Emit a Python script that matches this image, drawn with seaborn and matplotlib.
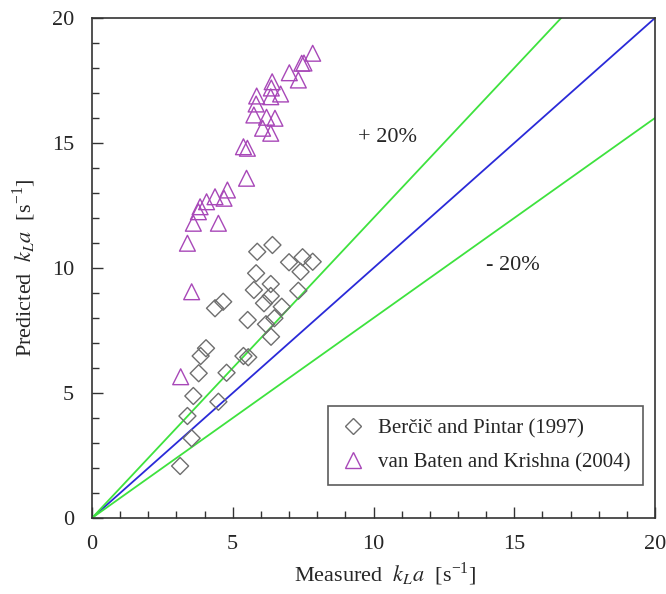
import matplotlib
matplotlib.use("Agg")
import matplotlib.pyplot as plt
from matplotlib.ticker import MultipleLocator
from matplotlib.lines import Line2D
import seaborn as sns
import pandas as pd
import numpy as np

# Berčič and Pintar (1997)
bp_measured = [6.41, 5.87, 7.00, 7.48, 7.84, 7.41, 5.83, 6.35, 5.75, 6.35,
               6.11, 7.33, 6.74, 4.66, 4.37, 5.53, 6.48, 6.18, 6.36, 4.05,
               3.86, 5.38, 5.55, 3.79, 4.78, 3.60, 4.49, 3.39, 3.54, 3.13]
bp_predicted = [10.92, 10.65, 10.23, 10.43, 10.25, 9.85, 9.79, 9.36, 9.12, 8.88,
                8.59, 9.09, 8.45, 8.65, 8.39, 7.92, 7.99, 7.75, 7.25, 6.79,
                6.48, 6.48, 6.43, 5.79, 5.81, 4.88, 4.65, 4.08, 3.19, 2.08]

# van Baten and Krishna (2004)
vb_measured = [7.84, 7.45, 7.53, 7.01, 7.33, 6.40, 6.37, 6.70, 5.85, 6.35,
               5.83, 5.75, 6.20, 6.50, 6.06, 6.35, 5.38, 5.52, 5.49, 4.81,
               4.69, 4.37, 4.07, 3.84, 3.78, 3.60, 4.49, 3.39, 3.54, 3.15]
vb_predicted = [18.59, 18.19, 18.20, 17.81, 17.52, 17.45, 17.20, 16.96, 16.88, 16.85,
                16.56, 16.12, 16.03, 15.99, 15.59, 15.39, 14.85, 14.79, 13.59, 13.12,
                12.79, 12.85, 12.65, 12.45, 12.25, 11.79, 11.79, 10.99, 9.05, 5.65]

parity_x = [0, 20]
parity_ratios = [1.0, 1.2, 0.8]

bp_label = "Berčič and Pintar (1997)"
vb_label = "van Baten and Krishna (2004)"

bp_df = pd.DataFrame({"measured": bp_measured, "predicted": bp_predicted})
vb_df = pd.DataFrame({"measured": vb_measured, "predicted": vb_predicted})

GRAY = "#6e6e6e"
PURPLE = "#a848b8"

sns.set_style("ticks")
plt.rcParams["font.family"] = ["Liberation Serif", "DejaVu Serif"]
plt.rcParams["mathtext.fontset"] = "stix"

fig = plt.figure(figsize=(6.66, 5.94), dpi=100)
ax = fig.add_axes([92 / 666, 76 / 594, 563 / 666, 500 / 594])

colors = {1.0: "#2a2ad8", 1.2: "#3ee23e", 0.8: "#3ee23e"}
xs = np.array(parity_x, dtype=float)
for r in parity_ratios:
    ax.plot(xs, xs * r, color=colors[r], lw=1.3, zorder=1)

sns.scatterplot(data=bp_df, x="measured", y="predicted", marker="D", s=75,
                facecolor="none", edgecolor=GRAY, linewidth=1.0, ax=ax, zorder=3)
sns.scatterplot(data=vb_df, x="measured", y="predicted", marker="^", s=130,
                facecolor="none", edgecolor=PURPLE, linewidth=1.0, ax=ax, zorder=3)

ax.text(10.5, 15.2, "+ 20%", fontsize=16, ha="center", va="center")
ax.text(14.95, 10.1, "- 20%", fontsize=16, ha="center", va="center")

ax.set_xlim(0, 20)
ax.set_ylim(0, 20)
ax.xaxis.set_major_locator(MultipleLocator(5))
ax.yaxis.set_major_locator(MultipleLocator(5))
ax.xaxis.set_minor_locator(MultipleLocator(1))
ax.yaxis.set_minor_locator(MultipleLocator(1))
ax.tick_params(which="both", direction="in", top=False, right=False,
               labelsize=16, width=1, color="#333333")
ax.tick_params(which="major", length=8)
ax.tick_params(which="minor", length=5)
ax.tick_params(axis="x", which="major", pad=12)
ax.tick_params(axis="y", which="major", pad=13)
for sp in ax.spines.values():
    sp.set_visible(True)
    sp.set_linewidth(1.2)
    sp.set_color("#333333")

ax.set_xlabel(r"Measured  $k_L a$  [s$^{\mathregular{-1}}$]", fontsize=16, labelpad=2)
ax.xaxis.set_label_coords(0.52, -0.085)
ax.set_ylabel(r"Predicted  $k_L a$  [s$^{\mathregular{-1}}$]", fontsize=16, labelpad=10)

handles = [
    Line2D([], [], ls="none", marker="D", ms=8, mfc="none", mec=GRAY, mew=1.0),
    Line2D([], [], ls="none", marker="^", ms=12, mfc="none", mec=PURPLE, mew=1.0),
]
leg = ax.legend(handles, [bp_label, vb_label], loc="lower right",
                bbox_to_anchor=(0.979, 0.066), fontsize=15, frameon=True,
                fancybox=False, edgecolor="#333333", borderpad=0.6,
                labelspacing=0.7, handletextpad=0.6, handlelength=1.2,
                borderaxespad=0)
leg.get_frame().set_linewidth(1.2)

fig.savefig("out.png", dpi=100)
